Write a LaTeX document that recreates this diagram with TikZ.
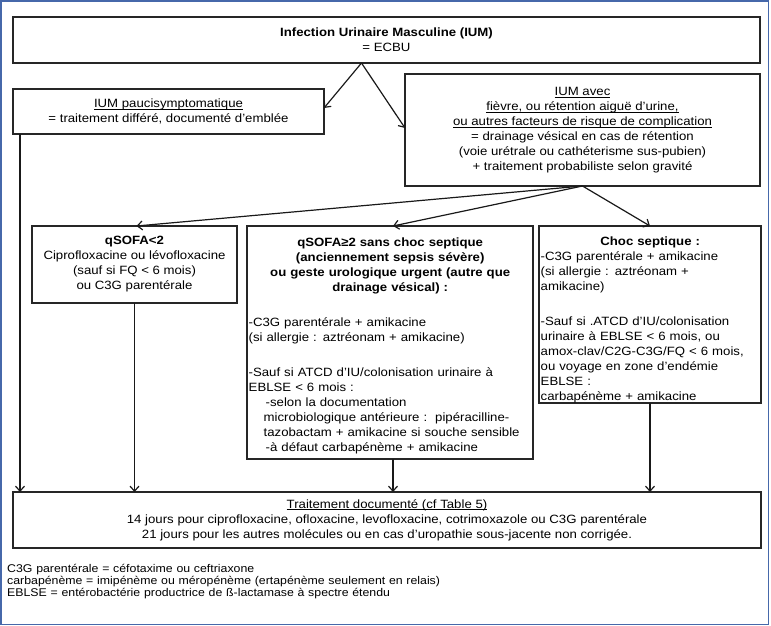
\documentclass[tikz,border=0pt]{standalone}
\usepackage{fontspec}
\setmainfont{Liberation Sans}[FakeStretch=1.1]
\usetikzlibrary{positioning}
\usetikzlibrary{arrows.meta}
\definecolor{framecol}{RGB}{70,104,170}
\newcommand{\ulline}[1]{\underline{\raisebox{0pt}[\height][0pt]{#1}}}

\begin{document}
\begin{tikzpicture}[x=1pt, y=-1pt,
        box/.style={draw=black!85, line width=1.3pt, inner sep=0pt, outer sep=0pt, anchor=north west},
        txt/.style={font=\fontsize{12}{15}\selectfont},
        link/.style={->, line width=1.2pt, draw=black!90},
        >={Straight Barb[length=5pt,width=9pt]}]

        \useasboundingbox (0,0) rectangle (771,626);
        \draw[framecol, line width=1.5pt] (1,1) rectangle (768.5,624.3);

        \node[box, txt, align=center, minimum width=747pt, minimum height=46pt] (ium) at (13,17)
            {\textbf{Infection Urinaire Masculine (IUM)}\\= ECBU};

        \node[box, txt, align=center, minimum width=311pt, minimum height=45pt] (pauci) at (13,89)
            {\ulline{IUM paucisymptomatique}\\= traitement différé, documenté d'emblée};

        \node[box, txt, align=center, minimum width=355pt, minimum height=112pt] (avec) at (405,74)
            {\ulline{IUM avec}\\
             \ulline{fièvre, ou rétention aiguë d'urine,}\\
             \ulline{ou autres facteurs de risque de complication}\\
             = drainage vésical en cas de rétention\\
             (voie urétrale ou cathéterisme sus-pubien)\\
             + traitement probabiliste selon gravité};

        \node[box, txt, align=center, minimum width=205pt, minimum height=77pt] (qsofa) at (32,226)
            {\textbf{qSOFA<2}\\Ciprofloxacine ou lévofloxacine\\(sauf si FQ < 6 mois)\\ou C3G parentérale};

        \node[box, minimum width=286pt, minimum height=233pt] (mid) at (247,226) {};
        \node[txt, anchor=base west, inner sep=0pt, text width=283pt, align=left] (midtext) at (248.5,246)
            {{\centering\bfseries qSOFA≥2 sans choc septique\\
             (anciennement sepsis sévère)\\
             ou geste urologique urgent (autre que\\
             drainage vésical) :\par}
             \vspace{20pt}
             -C3G parentérale + amikacine\\
             (si allergie : aztréonam + amikacine)\\[20pt]
             -Sauf si ATCD d'IU/colonisation urinaire à\\
             EBLSE < 6 mois :\\
             \hspace*{17pt}-selon la documentation\\
             \hspace*{15pt}microbiologique antérieure :\ \ pipéracilline-\\
             \hspace*{15pt}tazobactam + amikacine si souche sensible\\
             \hspace*{17pt}-à défaut carbapénème + amikacine};

        \node[box, minimum width=222pt, minimum height=177pt] (choc) at (539,226) {};
        \node[txt, anchor=base west, inner sep=0pt, text width=219pt, align=left] (choctext) at (540.5,245.7)
            {{\centering\bfseries Choc septique :\par}
             -C3G parentérale + amikacine\\
             (si allergie : aztréonam +\\
             amikacine)\\[20pt]
             -Sauf si .ATCD d'IU/colonisation\\
             urinaire à EBLSE < 6 mois, ou\\
             amox-clav/C2G-C3G/FQ < 6 mois,\\
             ou voyage en zone d'endémie\\
             EBLSE :\\
             carbapénème + amikacine};

        \node[box, txt, align=center, minimum width=748pt, minimum height=56pt] (traitement) at (13,492)
            {\ulline{Traitement documenté (cf Table 5)}\\
             14 jours pour ciprofloxacine, ofloxacine, levofloxacine, cotrimoxazole ou C3G parentérale\\
             21 jours pour les autres molécules ou en cas d'uropathie sous-jacente non corrigée.};

        \node[anchor=base west, inner sep=0pt, text width=600pt, align=left,
              font=\fontsize{11.2}{12.1}\selectfont] (notes) at (7,572)
            {C3G parentérale = céfotaxime ou ceftriaxone\\
             carbapénème = imipénème ou méropénème (ertapénème seulement en relais)\\
             EBLSE = entérobactérie productrice de ß-lactamase à spectre étendu};

        \draw[link] ([xshift=-25pt]ium.south) -- ([yshift=3.5pt]pauci.east);
        \draw[link] ([xshift=-25pt]ium.south) -- ([yshift=2pt]avec.west);

        \draw[link] (avec.south) -- ([xshift=2pt]qsofa.north);
        \draw[link] (avec.south) -- ([xshift=3pt]mid.north);
        \draw[link] (avec.south) -- (choc.north);

        \draw[link] ([xshift=7pt]pauci.south west) -- ([xshift=7pt]traitement.north -| pauci.south west);
        \draw[link] (qsofa.south) -- (qsofa.south |- traitement.north);
        \draw[link] ([xshift=3pt]mid.south) -- ([xshift=3pt]traitement.north -| mid.south);
        \draw[link] (choc.south) -- (choc.south |- traitement.north);

    \end{tikzpicture}
\end{document}
